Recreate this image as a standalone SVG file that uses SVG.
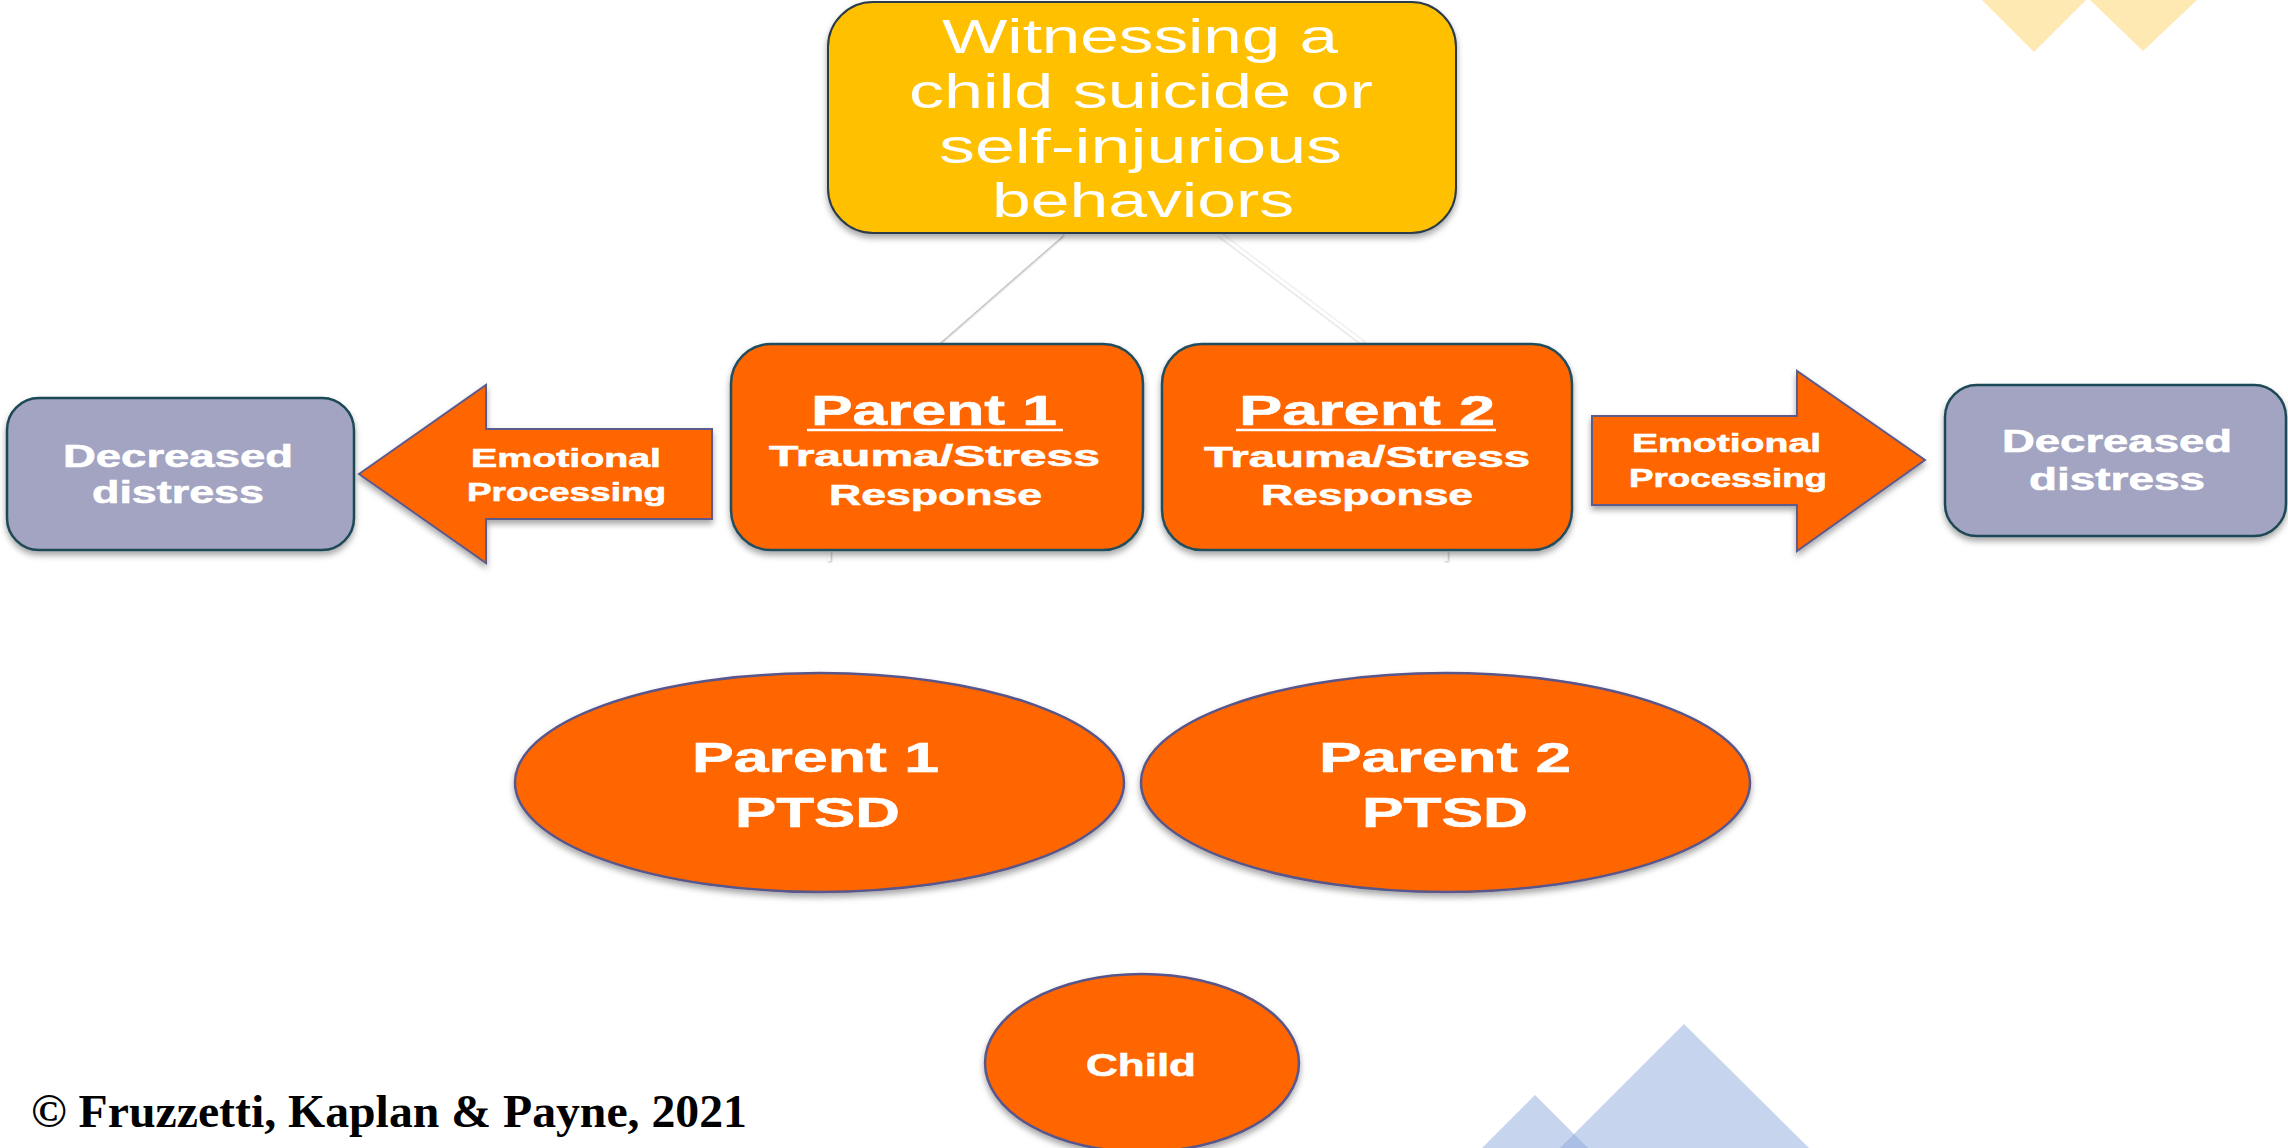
<svg xmlns="http://www.w3.org/2000/svg" width="2288" height="1148" viewBox="0 0 2288 1148">
  <defs>
    <filter id="shadow" x="-10%" y="-10%" width="120%" height="130%">
      <feDropShadow dx="0" dy="4" stdDeviation="3" flood-color="#000" flood-opacity="0.35"/>
    </filter>
    <filter id="lineShadow" x="-20%" y="-20%" width="140%" height="140%">
      <feDropShadow dx="1" dy="1" stdDeviation="1" flood-color="#000" flood-opacity="0.35"/>
    </filter>
    <style>
      .yellow { fill: #ffc000; stroke: #2b3a4a; stroke-width: 2; }
      .orange { fill: #ff6600; stroke: #234e5e; stroke-width: 2.5; }
      .gray { fill: #a2a4c2; stroke: #1f4a55; stroke-width: 2.5; }
      .arrow { fill: #ff6600; stroke: #5d5a8c; stroke-width: 2; }
      .oval { fill: #ff6600; stroke: #58568a; stroke-width: 2.5; }
      .conn { stroke: #ffffff; stroke-width: 3; fill: none; }
      .lbl { fill: #ffffff; font-family: "Liberation Sans", Arial, sans-serif; font-weight: bold; stroke: #ffffff; stroke-width: 0.6; }
      .thin { fill: #ffffff; font-family: "Liberation Sans", Arial, sans-serif; font-weight: normal; font-size: 49px; }
      .ul { stroke: #ffffff; stroke-width: 2.5; }
      .deco-y { fill: #fee9b2; }
      .deco-b { fill: #8faadc; fill-opacity: 0.5; }
    </style>
  </defs>

  <rect width="2288" height="1148" fill="#ffffff"/>

  <!-- background decoration -->
  <g id="decoration">
    <polygon class="deco-y" points="1982,0 2086,0 2034,52"/>
    <polygon class="deco-y" points="2090,0 2197,0 2143,51"/>
    <polygon class="deco-b" points="1684,1024 1809,1148 1560,1148"/>
    <polygon class="deco-b" points="1535,1095 1588,1148 1482,1148"/>
  </g>

  <!-- connectors -->
  <g id="connectors" filter="url(#lineShadow)">
    <line class="conn" x1="1062" y1="234" x2="937" y2="343"/>
    <line class="conn" x1="1219" y1="234" x2="1363" y2="343"/>
    <line class="conn" x1="829" y1="551" x2="829" y2="561"/>
    <line class="conn" x1="1446" y1="551" x2="1446" y2="561"/>
  </g>

  <!-- event -->
  <g id="event">
    <rect class="yellow" x="828" y="2" width="628" height="231" rx="45" filter="url(#shadow)"/>
    <text class="thin" x="942" y="53" textLength="396" lengthAdjust="spacingAndGlyphs">Witnessing a</text>
    <text class="thin" x="909" y="108" textLength="464" lengthAdjust="spacingAndGlyphs">child suicide or</text>
    <text class="thin" x="939" y="163" textLength="403" lengthAdjust="spacingAndGlyphs">self-injurious</text>
    <text class="thin" x="992" y="217" textLength="302" lengthAdjust="spacingAndGlyphs">behaviors</text>
  </g>

  <!-- parent 1 response -->
  <g id="parent1-response">
    <rect class="orange" x="731" y="344" width="412" height="206" rx="40" filter="url(#shadow)"/>
    <text class="lbl" x="811" y="425" font-size="42" textLength="246" lengthAdjust="spacingAndGlyphs">Parent 1</text>
    <line class="ul" x1="807" y1="430" x2="1063" y2="430"/>
    <text class="lbl" x="769" y="466" font-size="29" textLength="331" lengthAdjust="spacingAndGlyphs">Trauma/Stress</text>
    <text class="lbl" x="829" y="505" font-size="29" textLength="213" lengthAdjust="spacingAndGlyphs">Response</text>
  </g>

  <!-- parent 2 response -->
  <g id="parent2-response">
    <rect class="orange" x="1162" y="344" width="410" height="206" rx="40" filter="url(#shadow)"/>
    <text class="lbl" x="1239" y="425" font-size="42" textLength="256" lengthAdjust="spacingAndGlyphs">Parent 2</text>
    <line class="ul" x1="1236" y1="430" x2="1496" y2="430"/>
    <text class="lbl" x="1204" y="467" font-size="29" textLength="326" lengthAdjust="spacingAndGlyphs">Trauma/Stress</text>
    <text class="lbl" x="1261" y="505" font-size="29" textLength="212" lengthAdjust="spacingAndGlyphs">Response</text>
  </g>

  <!-- left processing arrow -->
  <g id="processing-left">
    <polygon class="arrow" points="359,474 486,385 486,429 712,429 712,519 486,519 486,563" filter="url(#shadow)"/>
    <text class="lbl" x="471" y="467" font-size="25" textLength="190" lengthAdjust="spacingAndGlyphs">Emotional</text>
    <text class="lbl" x="467" y="501" font-size="25" textLength="199" lengthAdjust="spacingAndGlyphs">Processing</text>
  </g>

  <!-- right processing arrow -->
  <g id="processing-right">
    <polygon class="arrow" points="1592,416 1797,416 1797,371 1925,460 1797,551 1797,505 1592,505" filter="url(#shadow)"/>
    <text class="lbl" x="1632" y="452" font-size="25" textLength="189" lengthAdjust="spacingAndGlyphs">Emotional</text>
    <text class="lbl" x="1629" y="487" font-size="25" textLength="198" lengthAdjust="spacingAndGlyphs">Processing</text>
  </g>

  <!-- outcomes -->
  <g id="outcome-left">
    <rect class="gray" x="7" y="398" width="347" height="152" rx="32" filter="url(#shadow)"/>
    <text class="lbl" x="63" y="467" font-size="31" textLength="230" lengthAdjust="spacingAndGlyphs">Decreased</text>
    <text class="lbl" x="92" y="503" font-size="31" textLength="172" lengthAdjust="spacingAndGlyphs">distress</text>
  </g>

  <g id="outcome-right">
    <rect class="gray" x="1945" y="385" width="341" height="151" rx="32" filter="url(#shadow)"/>
    <text class="lbl" x="2002" y="452" font-size="31" textLength="230" lengthAdjust="spacingAndGlyphs">Decreased</text>
    <text class="lbl" x="2029" y="490" font-size="31" textLength="176" lengthAdjust="spacingAndGlyphs">distress</text>
  </g>

  <!-- PTSD ovals -->
  <g id="parent1-ptsd">
    <ellipse class="oval" cx="819.5" cy="782.5" rx="304.5" ry="109.5" filter="url(#shadow)"/>
    <text class="lbl" x="692" y="772" font-size="43" textLength="247" lengthAdjust="spacingAndGlyphs">Parent 1</text>
    <text class="lbl" x="735" y="827" font-size="43" textLength="165" lengthAdjust="spacingAndGlyphs">PTSD</text>
  </g>

  <g id="parent2-ptsd">
    <ellipse class="oval" cx="1445.5" cy="782.5" rx="304.5" ry="109.5" filter="url(#shadow)"/>
    <text class="lbl" x="1319" y="772" font-size="43" textLength="252" lengthAdjust="spacingAndGlyphs">Parent 2</text>
    <text class="lbl" x="1362" y="827" font-size="43" textLength="166" lengthAdjust="spacingAndGlyphs">PTSD</text>
  </g>

  <!-- child -->
  <g id="child">
    <ellipse class="oval" cx="1142" cy="1063" rx="157" ry="89" filter="url(#shadow)"/>
    <text class="lbl" x="1086" y="1076" font-size="32" textLength="110" lengthAdjust="spacingAndGlyphs">Child</text>
  </g>

  <!-- credit line -->
  <text id="credit" x="31" y="1127" font-family="'Liberation Serif', 'Times New Roman', serif" font-weight="bold" font-size="46" fill="#000000" textLength="716" lengthAdjust="spacingAndGlyphs">© Fruzzetti, Kaplan &amp; Payne, 2021</text>
</svg>
